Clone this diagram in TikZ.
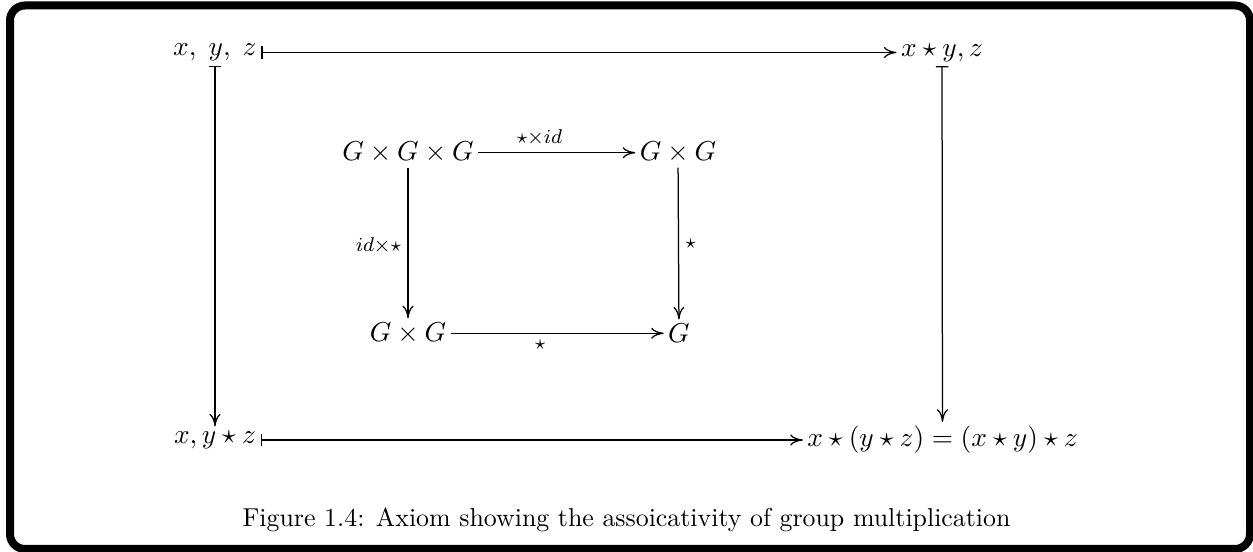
\documentclass[tikz,border=0pt]{standalone}
\usepackage{amsmath,amssymb}
\usetikzlibrary{arrows.meta}
\tikzset{
  ar/.style={-{To[length=5pt,width=4.4pt]},line width=0.5pt},
  mapar/.style={{Bar[width=5pt]}-{To[length=5pt,width=4.4pt]},line width=0.5pt},
  obj/.style={inner sep=1.6pt,font=\fontsize{11.4}{14}\selectfont},
  lbl/.style={inner sep=2.5pt,font=\fontsize{11.4}{14}\selectfont}
}
\begin{document}
\begin{tikzpicture}[x=0.4pt,y=0.4pt]
\useasboundingbox (0,0) rectangle (1253,552);
\draw[line width=3.2pt,rounded corners=6pt] (10,3) rectangle (1250,546.5);
% outer square
\node[obj] (xyz) at (215,499.5) {$x,\;y,\;z$};
\node[obj] (xsyz) at (942,499.5) {$x\star y,z$};
\node[obj] (xysz) at (215,112) {$x,y\star z$};
\node[obj] (assoc) at (942.5,112) {$x\star(y\star z)=(x\star y)\star z$};
\draw[mapar] (xyz) -- (xsyz);
\draw[mapar] (xyz) -- (xysz);
\draw[mapar] (xsyz) -- (assoc);
\draw[mapar] (xysz) -- (assoc);
% inner square
\node[obj] (ggg) at (408,399.3) {$G\times G\times G$};
\node[obj] (ggtr) at (678,399.3) {$G\times G$};
\node[obj] (ggbl) at (408,218.7) {$G\times G$};
\node[obj] (g) at (679,218.7) {$G$};
\draw[ar] (ggg) -- node[lbl,above,pos=0.39] {$\scriptstyle\star\times id$} (ggtr);
\draw[ar] (ggg) -- node[lbl,left,pos=0.52] {$\scriptstyle id\times\star$} (ggbl);
\draw[ar] (ggtr) -- node[lbl,right,pos=0.5] {$\scriptstyle\star$} (g);
\draw[ar] (ggbl) -- node[lbl,below,pos=0.42] {$\scriptstyle\star$} (g);
\node[font=\fontsize{10.35}{12}\selectfont] (cap) at (626.5,32) {Figure 1.4: Axiom showing the assoicativity of group multiplication};
\end{tikzpicture}
\end{document}
